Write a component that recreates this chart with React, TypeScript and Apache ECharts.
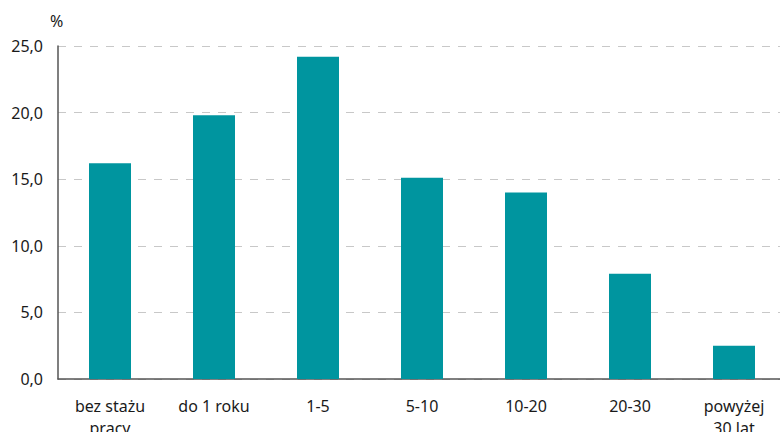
import React, { useEffect, useRef } from "react";
import * as echarts from "echarts";

const categories = ["bez stażu\npracy", "do 1 roku", "1-5", "5-10", "10-20", "20-30", "powyżej\n30 lat"];
const values = [16.2, 19.8, 24.2, 15.1, 14.0, 7.9, 2.5];
const yTicks = [0, 5, 10, 15, 20, 25];
const unitLabel = "%";

export default function App() {
  const ref = useRef<HTMLDivElement>(null);
  useEffect(() => {
    if (!ref.current) return;
    const chart = echarts.init(ref.current, null, { renderer: "svg" });
    const font = "'Noto Sans', 'Open Sans', sans-serif";
    chart.setOption({
      animation: false,
      textStyle: { fontFamily: font },
      grid: { left: 58, right: -6, top: 46, bottom: 53, containLabel: false, outerBoundsMode: "none" },
      graphic: [
        {
          type: "text",
          left: 50,
          top: 13,
          style: { text: unitLabel, fontSize: 16, fill: "#1a1a1a", fontFamily: font },
        },
      ],
      xAxis: {
        type: "category",
        data: categories,
        axisLine: { show: true, lineStyle: { color: "#555", width: 1.5 } },
        axisTick: { show: false },
        axisLabel: { color: "#1a1a1a", fontSize: 16, margin: 16, lineHeight: 22, interval: 0, fontFamily: font },
      },
      yAxis: {
        type: "value",
        min: yTicks[0],
        max: yTicks[yTicks.length - 1],
        interval: 5,
        axisLine: { show: true, lineStyle: { color: "#555", width: 1.5 } },
        axisTick: { show: false },
        axisLabel: {
          color: "#1a1a1a",
          fontSize: 16,
          margin: 15,
          fontFamily: font,
          formatter: (v: number) => v.toFixed(1).replace(".", ","),
        },
        splitLine: { show: true, lineStyle: { color: "#c8c8c8", type: [8, 8], width: 1.2 } },
      },
      series: [
        {
          type: "bar",
          data: values,
          barWidth: 42,
          itemStyle: { color: "#00959f" },
        },
      ],
    });
    return () => chart.dispose();
  }, []);
  return <div ref={ref} style={{ position: "absolute", left: 0, top: 0, width: 780, height: 432 }} />;
}
